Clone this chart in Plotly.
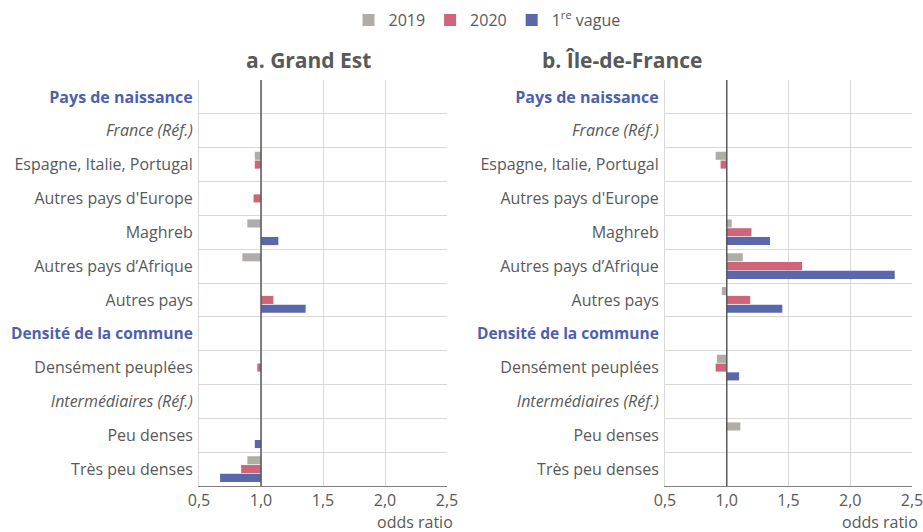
import plotly.graph_objects as go

W, H = 923, 532
OFF = 0  # page offset of the figure (body margin removed below)

categories = [
    "<span style='color:#4f5fae'><b>Pays de naissance</b></span>",
    "<i>France (Réf.)</i>",
    "Espagne, Italie, Portugal",
    "Autres pays d'Europe",
    "Maghreb",
    "Autres pays d’Afrique",
    "Autres pays",
    "<span style='color:#4f5fae;font-size:15.5px'><b>Densité de la commune</b></span>",
    "Densément peuplées",
    "<i>Intermédiaires (Réf.)</i>",
    "Peu denses",
    "Très peu denses",
]

series_names = ["2019", "2020", "1<sup>re</sup> vague"]
series_colors = ["#b0ada8", "#cf6579", "#5a67aa"]

# odds ratios, None = no bar (not significant / reference)
ge_2019 = [None, None, 0.95, None, 0.89, 0.85, None, None, None, None, None, 0.89]
ge_2020 = [None, None, 0.95, 0.94, None, None, 1.10, None, 0.97, None, None, 0.84]
ge_vague = [None, None, None, None, 1.14, None, 1.36, None, None, None, 0.95, 0.67]

idf_2019 = [None, None, 0.91, None, 1.04, 1.13, 0.96, None, 0.92, None, 1.11, None]
idf_2020 = [None, None, 0.95, None, 1.20, 1.61, 1.19, None, 0.91, None, None, None]
idf_vague = [None, None, None, None, 1.35, 2.36, 1.45, None, 1.10, None, None, None]

REF = 1.0
x_ticks = [0.5, 1.0, 1.5, 2.0, 2.5]
panel_titles = ["a. Grand Est", "b. Île-de-France"]

panels = [
    ("x", "y", [ge_2019, ge_2020, ge_vague]),
    ("x2", "y2", [idf_2019, idf_2020, idf_vague]),
]

fig = go.Figure()
for pi, (xa, ya, series) in enumerate(panels):
    for si, vals in enumerate(series):
        xs = [None if v is None else v - REF for v in vals]
        fig.add_trace(go.Bar(
            y=categories, x=xs, base=REF, orientation="h",
            name=series_names[si], marker_color=series_colors[si],
            marker_line_width=0, xaxis=xa, yaxis=ya,
            showlegend=(pi == 0), legendgroup=series_names[si],
        ))


def px(pixel_x):
    return (pixel_x - OFF) / W


def py(pixel_y):
    return (H - (pixel_y - OFF)) / H


dom1 = [px(199), px(447)]
dom2 = [px(665), px(912)]
ydom = [py(486), py(80)]

font = "Open Sans"
txt = "#595959"
xaxis_common = dict(
    range=[0.5, 2.5], tickvals=x_ticks, tickformat=".1f",
    showgrid=True, gridcolor="#d9d9d9", gridwidth=1,
    zeroline=False, showline=True, linecolor="#7f7f7f", linewidth=1,
    tickfont=dict(size=16, color=txt, family=font), ticks="",
    fixedrange=True, automargin=False, ticklabeloverflow="allow",
)
yaxis_common = dict(
    type="category", autorange="reversed", tickson="boundaries",
    showgrid=True, gridcolor="#d9d9d9", gridwidth=1,
    showline=True, linecolor="#d9d9d9", ticks="",
    tickfont=dict(size=16, color=txt, family=font),
    ticklabelstandoff=2,
    domain=ydom, fixedrange=True, automargin=False,
)

fig.update_layout(
    width=W, height=H,
    margin=dict(l=0, r=0, t=0, b=0, autoexpand=False),
    paper_bgcolor="white", plot_bgcolor="white",
    separators=", ",
    barmode="group", bargap=0.22, bargroupgap=0.08,
    font=dict(family=font, color=txt),
    xaxis=dict(domain=dom1, anchor="y", **xaxis_common),
    xaxis2=dict(domain=dom2, anchor="y2", **xaxis_common),
    yaxis=dict(anchor="x", **yaxis_common),
    yaxis2=dict(anchor="x2", **yaxis_common),
    legend=dict(orientation="h", x=px(487), xanchor="center", y=py(20), yanchor="middle",
                font=dict(size=16, color=txt, family=font),
                itemwidth=30, traceorder="normal"),
    showlegend=True,
)

# reference line at odds ratio = 1
for xa, ya in [("x", "y"), ("x2", "y2")]:
    fig.add_shape(type="line", x0=REF, x1=REF, xref=xa, y0=0, y1=1,
                  yref=ya + " domain", line=dict(color="#595959", width=1.5), layer="above")

# panel titles
fig.add_annotation(text="<b>" + panel_titles[0] + "</b>", x=px(244), y=py(60),
                   xref="paper", yref="paper", showarrow=False, yanchor="middle",
                   font=dict(size=21, color=txt, family=font))
fig.add_annotation(text="<b>" + panel_titles[1] + "</b>", x=px(704), y=py(60),
                   xref="paper", yref="paper", showarrow=False, yanchor="middle",
                   font=dict(size=21, color=txt, family=font))

# axis unit labels
for d in (dom1, dom2):
    fig.add_annotation(text="odds ratio", x=d[1], xshift=8, xanchor="right",
                       y=py(522), yanchor="middle", xref="paper", yref="paper",
                       showarrow=False, font=dict(size=16, color=txt, family=font))

fig.write_html("out.html", config={"displayModeBar": False},
               post_script="document.body.style.margin='0px';")
